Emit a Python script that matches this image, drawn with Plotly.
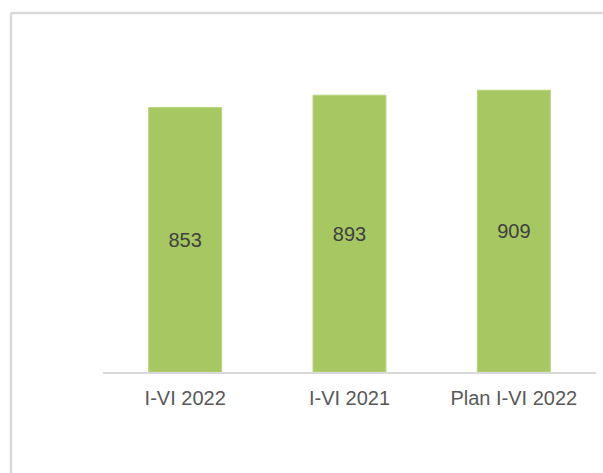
import plotly.graph_objects as go

categories = ["I-VI 2022", "I-VI 2021", "Plan I-VI 2022"]
values = [853, 893, 909]

W, H = 603, 473
L, R, T, B = 103, 7, 62, 101
pw, ph = W - L - R, H - T - B


def px_x(x):
    return (x - L) / pw


def px_y(y):
    return (H - B - y) / ph


fig = go.Figure(go.Bar(
    x=categories,
    y=values,
    text=values,
    textposition="inside",
    insidetextanchor="middle",
    textfont=dict(family="Liberation Sans, Arial", size=20, color="#404040"),
    marker=dict(color="#A7C763", line=dict(color="#B9D580", width=1)),
    width=0.444,
))

# outer chart frame (top and left edges visible)
frame = dict(color="#D9D9D9", width=2.5)
fig.add_shape(type="line", xref="paper", yref="paper",
              x0=px_x(11), x1=px_x(W + 5), y0=px_y(13), y1=px_y(13), line=frame)
fig.add_shape(type="line", xref="paper", yref="paper",
              x0=px_x(11), x1=px_x(11), y0=px_y(13), y1=px_y(H + 5), line=frame)

fig.update_layout(
    width=W,
    height=H,
    margin=dict(l=L, r=R, t=T, b=B),
    paper_bgcolor="white",
    plot_bgcolor="white",
    showlegend=False,
    xaxis=dict(
        showline=True,
        linecolor="#D9D9D9",
        linewidth=1.5,
        ticks="",
        tickfont=dict(family="Liberation Sans, Arial", size=20, color="#595959"),
        ticklabelstandoff=7,
    ),
    yaxis=dict(
        range=[0, 1000],
        visible=False,
        showgrid=False,
        zeroline=False,
    ),
)

# page body has a default margin; remove it so the figure fills the window
fig.write_html("out.html", config={"displayModeBar": False},
               post_script="document.body.style.margin='0';")
